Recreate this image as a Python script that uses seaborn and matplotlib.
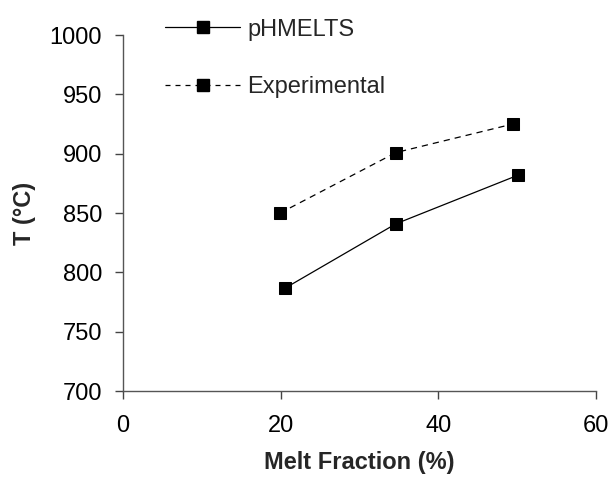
import matplotlib
matplotlib.use("Agg")
import matplotlib.pyplot as plt
import seaborn as sns
import pandas as pd

# Melt fraction (%) and temperature (°C) for each series
phmelts_x = [20.6, 34.6, 50.1]
phmelts_t = [787, 841, 882]
exp_x = [19.9, 34.6, 49.4]
exp_t = [850, 901, 925]

series_names = ["pHMELTS", "Experimental"]
x_ticks = [0, 20, 40, 60]
y_ticks = [700, 750, 800, 850, 900, 950, 1000]

df = pd.DataFrame({
    "melt": phmelts_x + exp_x,
    "temp": phmelts_t + exp_t,
    "series": [series_names[0]] * len(phmelts_x) + [series_names[1]] * len(exp_x),
})

sns.set_theme(style="ticks")
plt.rcParams["font.family"] = ["Liberation Sans", "DejaVu Sans"]

fig = plt.figure(figsize=(6.09, 4.80), dpi=100)
ax = fig.add_axes([0.202, 0.185, 0.777, 0.742])

sns.lineplot(
    data=df, x="melt", y="temp", style="series", hue="series",
    palette={series_names[0]: "black", series_names[1]: "black"},
    dashes={series_names[0]: "", series_names[1]: (5, 4)},
    markers={series_names[0]: "s", series_names[1]: "s"},
    markersize=9, markeredgecolor="black", linewidth=0.9,
    ax=ax, legend=False,
)

ax.set_xlim(0, 60)
ax.set_ylim(700, 1000)
ax.set_xticks(x_ticks)
ax.set_yticks(y_ticks)
ax.tick_params(axis="both", direction="out", length=6, width=1,
               color="#444444", labelsize=17, labelcolor="black")
ax.tick_params(axis="y", pad=9)
ax.tick_params(axis="x", pad=11)
for s in ["top", "right"]:
    ax.spines[s].set_visible(False)
for s in ["left", "bottom"]:
    ax.spines[s].set_color("#555555")
    ax.spines[s].set_linewidth(1.0)

ax.set_xlabel("Melt Fraction (%)", fontsize=17, fontweight="bold", labelpad=10)
ax.set_ylabel("T (°C)", fontsize=17, fontweight="bold", labelpad=10)

handles = [
    plt.Line2D([], [], color="black", lw=0.9, marker="s", markersize=8),
    plt.Line2D([], [], color="black", lw=0.9, ls=(0, (4, 4)), marker="s", markersize=8),
]
fig.legend(handles, series_names, loc="upper left",
           bbox_to_anchor=(0.255, 0.981), frameon=False, fontsize=17,
           handlelength=3.2, handletextpad=0.3, labelspacing=1.5,
           borderaxespad=0)

fig.savefig("out.png", dpi=100, facecolor="white")
